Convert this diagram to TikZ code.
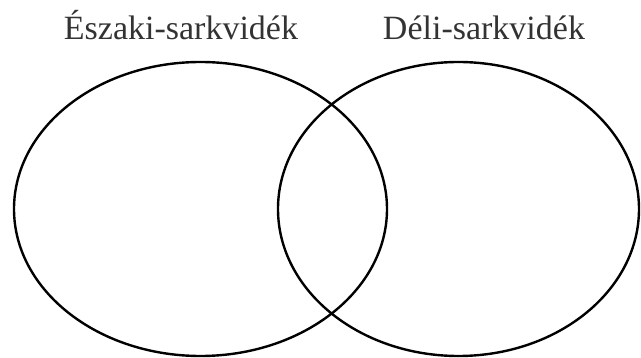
\documentclass[tikz,border=0pt]{standalone}
\usepackage{fontspec}
\setmainfont{Liberation Serif}
\usepackage{tikz}
\usetikzlibrary{shapes.geometric}

\begin{document}
\begin{tikzpicture}[
x=1pt, y=-1pt,
region/.style={draw=black, ellipse, line width=2.4pt, inner sep=0pt, outer sep=0pt},
label/.style={anchor=base, font=\fontsize{34}{40}\selectfont, text=black!80, inner sep=0pt}
]
\useasboundingbox (0,0) rectangle (641,358);
\node[region, minimum width=373pt, minimum height=294pt] (eszaki) at (200.5,209) {};
\node[region, minimum width=361pt, minimum height=294pt] (deli) at (458.5,209) {};
\node[label] (eszakicim) at (181,40) {Északi-sarkvidék};
\node[label] (delicim) at (484,40) {Déli-sarkvidék};
\end{tikzpicture}
\end{document}
